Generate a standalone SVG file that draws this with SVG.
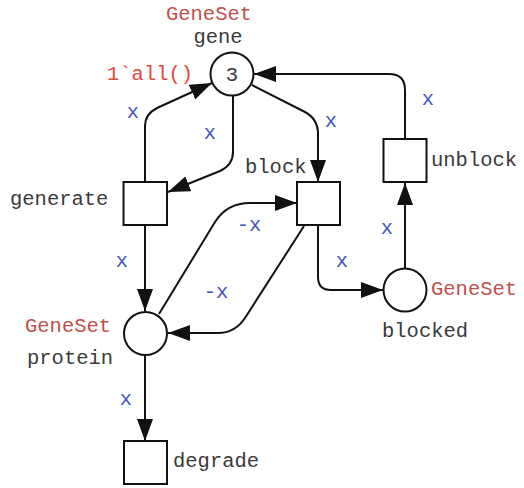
<svg xmlns="http://www.w3.org/2000/svg" width="524" height="488" viewBox="0 0 524 488">
<style>
text{font-family:"Liberation Mono","DejaVu Sans Mono",monospace;font-size:20.5px}
.n{fill:#3a3a3a}
.t{fill:#c0504d}
.m{fill:#e8453c}
.a{fill:#4457bd;text-anchor:middle}
.s{fill:#fff;stroke:#111;stroke-width:2}
.c{fill:none;stroke:#111;stroke-width:2;marker-end:url(#ah)}
</style>
<defs>
<marker id="ah" viewBox="0 0 22 16" refX="22" refY="8" markerWidth="22" markerHeight="16" markerUnits="userSpaceOnUse" orient="auto">
<path d="M0,0 L22,8 L0,16 Z" fill="#111"/>
</marker>
</defs>
<g id="connectors">
<path class="c" d="M145,182 L145,126 Q145,114 157,108 L212,83"/>
<path class="c" d="M233,96 L233,152 Q233,165 220,171 L168,192"/>
<path class="c" d="M252,85 L305,112 Q318,119 318,134 L318,182"/>
<path class="c" d="M405,139 L405,90 Q405,74 389,74 L254,74"/>
<path class="c" d="M318,225 L318,277 Q318,290 331,290 L383,290"/>
<path class="c" d="M405,268 L405,183"/>
<path class="c" d="M159,314 L215,222 Q227,203 250,203 L297,203"/>
<path class="c" d="M304,226 L245,318 Q235,333 218,333 L168,333"/>
<path class="c" d="M145,225 L145,311"/>
<path class="c" d="M145,355 L145,441"/>
<text class="a" x="133" y="118">x</text>
<text class="a" x="210" y="139">x</text>
<text class="a" x="331" y="127">x</text>
<text class="a" x="428" y="105">x</text>
<text class="a" x="342" y="267">x</text>
<text class="a" x="387" y="234">x</text>
<text class="a" x="249" y="231">-x</text>
<text class="a" x="216" y="298">-x</text>
<text class="a" x="122" y="267">x</text>
<text class="a" x="126" y="405">x</text>
</g>
<g id="gene">
<circle class="s" cx="232" cy="74" r="21.5"/>
<text class="n" x="232" y="81" text-anchor="middle">3</text>
<text class="t" x="209" y="20" text-anchor="middle">GeneSet</text>
<text class="n" x="218" y="43" text-anchor="middle">gene</text>
<text class="m" x="107" y="80">1`all()</text>
</g>
<g id="generate">
<rect class="s" x="123.5" y="182" width="43.5" height="43"/>
<text class="n" x="10" y="205">generate</text>
</g>
<g id="block">
<rect class="s" x="297" y="182" width="43" height="43"/>
<text class="n" x="245" y="173">block</text>
</g>
<g id="unblock">
<rect class="s" x="383.5" y="139" width="43" height="43"/>
<text class="n" x="431" y="166">unblock</text>
</g>
<g id="protein">
<circle class="s" cx="145.5" cy="333.5" r="21.5"/>
<text class="t" x="25" y="332">GeneSet</text>
<text class="n" x="27" y="364">protein</text>
</g>
<g id="blocked">
<circle class="s" cx="405" cy="290" r="21.5"/>
<text class="t" x="431" y="295">GeneSet</text>
<text class="n" x="382" y="337">blocked</text>
</g>
<g id="degrade">
<rect class="s" x="124" y="441" width="43" height="43"/>
<text class="n" x="173" y="467">degrade</text>
</g>
</svg>
